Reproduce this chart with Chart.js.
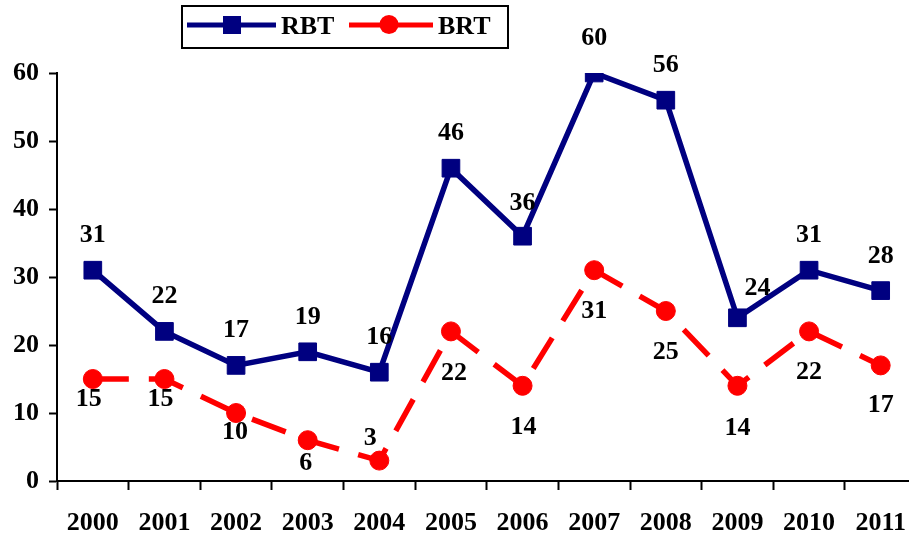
<!DOCTYPE html>
<html>
<head>
<meta charset="utf-8">
<script src="https://cdn.jsdelivr.net/npm/chart.js@4.4.1/dist/chart.umd.min.js"></script>
<style>
  html, body { margin: 0; padding: 0; background: #fff; overflow: hidden; }
  #wrap { width: 930px; height: 535px; }
</style>
</head>
<body>
<div id="wrap"><canvas id="grafico" width="930" height="535"></canvas></div>
<script>
  const anos = ["2000", "2001", "2002", "2003", "2004", "2005", "2006", "2007", "2008", "2009", "2010", "2011"];
  const rbt = [31, 22, 17, 19, 16, 46, 36, 60, 56, 24, 31, 28];
  const brt = [15, 15, 10, 6, 3, 22, 14, 31, 25, 14, 22, 17];
  const yTicks = [0, 10, 20, 30, 40, 50, 60];

  // where each value label sits relative to its marker (style only)
  const rbtLabelNudge = [[0,-35],[0,-35],[0,-35],[0,-35],[0,-35],[0,-35],[0,-33],[0,-35],[0,-35],[20,-30],[0,-35],[0,-34]];
  const brtLabelNudge = [[-4,20],[-4,20],[-1,19],[-2,23],[-9,-22],[3,42],[1,41],[0,41],[0,41],[0,42],[0,41],[0,40]];

  const FONT = "'Liberation Serif', 'Times New Roman', serif";
  const NAVY = "#000080";
  const RED = "#ff0000";

  const rotulos = {
    id: "rotulos",
    afterDatasetsDraw(chart) {
      const ctx = chart.ctx;
      ctx.save();
      ctx.font = "bold 26px " + FONT;
      ctx.fillStyle = "#000";
      ctx.textAlign = "center";
      ctx.textBaseline = "middle";
      const nudges = [rbtLabelNudge, brtLabelNudge];
      chart.data.datasets.forEach((ds, i) => {
        chart.getDatasetMeta(i).data.forEach((pt, j) => {
          ctx.fillText(String(ds.data[j]), pt.x + nudges[i][j][0], pt.y + nudges[i][j][1]);
        });
      });
      ctx.restore();
    },
  };

  const legenda = {
    id: "legenda",
    afterDraw(chart) {
      const ctx = chart.ctx;
      ctx.save();
      ctx.strokeStyle = "#000";
      ctx.lineWidth = 2;
      ctx.strokeRect(182, 6, 326, 42);
      // RBT
      ctx.strokeStyle = NAVY;
      ctx.lineWidth = 5;
      ctx.beginPath(); ctx.moveTo(187, 25); ctx.lineTo(276, 25); ctx.stroke();
      ctx.fillStyle = NAVY;
      ctx.fillRect(223, 16, 18, 18);
      // BRT
      ctx.strokeStyle = RED;
      ctx.beginPath(); ctx.moveTo(349, 25); ctx.lineTo(433, 25); ctx.stroke();
      ctx.fillStyle = RED;
      ctx.beginPath(); ctx.arc(389, 24.5, 9.5, 0, Math.PI * 2); ctx.fill();
      ctx.fillStyle = "#000";
      ctx.font = "bold 26px " + FONT;
      ctx.textBaseline = "middle";
      ctx.textAlign = "left";
      ctx.fillText("RBT", 281, 27);
      ctx.fillText("BRT", 438, 27);
      ctx.restore();
    },
  };

  const el = document.getElementById("grafico");

  var grafico = new Chart(el, {
    type: "line",
    data: {
      labels: anos,
      datasets: [
        {
          label: "RBT",
          data: rbt,
          borderColor: NAVY,
          backgroundColor: NAVY,
          borderWidth: 5.5,
          pointStyle: "rect",
          pointRadius: 12.5,
          pointBorderWidth: 1,
          pointBackgroundColor: NAVY,
          pointBorderColor: NAVY,
          tension: 0,
        },
        {
          label: "BRT",
          data: brt,
          borderColor: RED,
          backgroundColor: RED,
          borderWidth: 5.5,
          borderDash: [36, 20],
          pointStyle: "circle",
          pointRadius: 9.5,
          pointBorderWidth: 1,
          pointBackgroundColor: RED,
          pointBorderColor: RED,
          tension: 0,
        },
      ],
    },
    options: {
      responsive: false,
      animation: false,
      layout: { padding: { top: 73, left: 0, right: 2, bottom: 0 } },
      plugins: {
        legend: { display: false },
        tooltip: { enabled: false },
      },
      scales: {
        x: {
          type: "category",
          offset: true,
          grid: {
            offset: true,
            drawOnChartArea: false,
            drawTicks: true,
            tickLength: 9,
            tickWidth: 2,
            tickColor: "#000",
          },
          border: { color: "#000", width: 2 },
          ticks: {
            color: "#000",
            font: { family: FONT, size: 26, weight: "bold" },
            padding: 18,
            maxRotation: 0,
            autoSkip: false,
          },
          afterFit(scale) { scale.height = 54; },
        },
        y: {
          min: 0,
          max: 60,
          afterBuildTicks(scale) { scale.ticks = yTicks.map((v) => ({ value: v })); },
          grid: {
            drawOnChartArea: false,
            drawTicks: true,
            tickLength: 8,
            tickWidth: 2,
            tickColor: "#000",
          },
          border: { color: "#000", width: 2 },
          ticks: {
            color: "#000",
            font: { family: FONT, size: 26, weight: "bold" },
            padding: 10,
          },
          afterFit(scale) { scale.width = 57; },
        },
      },
    },
    plugins: [rotulos, legenda],
  });
</script>
</body>
</html>
